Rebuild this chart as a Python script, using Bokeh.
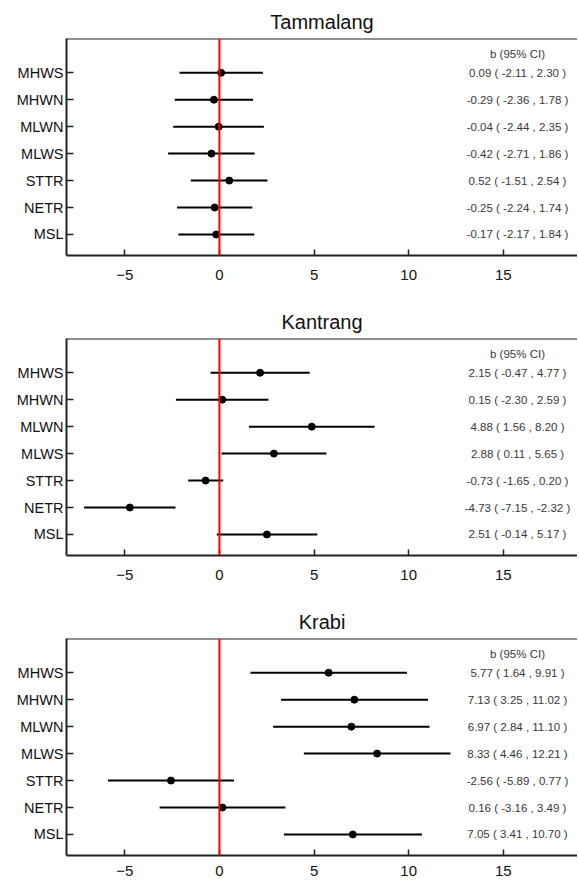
from bokeh.plotting import figure
from bokeh.layouts import column
from bokeh.models import Span, FixedTicker, Range1d, ColumnDataSource
from bokeh.embed import file_html
from bokeh.resources import INLINE
from bokeh.core.properties import value

sites = ["Tammalang", "Kantrang", "Krabi"]
params = ["MHWS", "MHWN", "MLWN", "MLWS", "STTR", "NETR", "MSL"]

tam_b = [0.09, -0.29, -0.04, -0.42, 0.52, -0.25, -0.17]
tam_lo = [-2.11, -2.36, -2.44, -2.71, -1.51, -2.24, -2.17]
tam_hi = [2.30, 1.78, 2.35, 1.86, 2.54, 1.74, 1.84]

kan_b = [2.15, 0.15, 4.88, 2.88, -0.73, -4.73, 2.51]
kan_lo = [-0.47, -2.30, 1.56, 0.11, -1.65, -7.15, -0.14]
kan_hi = [4.77, 2.59, 8.20, 5.65, 0.20, -2.32, 5.17]

kra_b = [5.77, 7.13, 6.97, 8.33, -2.56, 0.16, 7.05]
kra_lo = [1.64, 3.25, 2.84, 4.46, -5.89, -3.16, 3.41]
kra_hi = [9.91, 11.02, 11.10, 12.21, 0.77, 3.49, 10.70]

x_ticks = [-5, 0, 5, 10, 15]
header = "b (95% CI)"

X_RANGE = (-8.08, 18.92)
Y_RANGE = (0.22, 8.27)
TEXT_X = 15.75
HEADER_Y = 7.71
FONT = "Liberation Sans"


def fmt(v):
    return f"{v:.2f}"


def make(title, b, lo, hi, height, bottom, label_standoff):
    n = len(params)
    ypos = [float(n - i) for i in range(n)]
    labels = [f"{fmt(bb)} ( {fmt(l)} , {fmt(h)} )" for bb, l, h in zip(b, lo, hi)]
    src = ColumnDataSource(dict(b=b, lo=lo, hi=hi, y=ypos, lab=labels))

    p = figure(width=577, height=height,
               x_range=Range1d(*X_RANGE), y_range=Range1d(*Y_RANGE),
               output_backend="svg", toolbar_location=None, title=title,
               min_border_left=66, min_border_right=0,
               min_border_top=38, min_border_bottom=bottom)
    p.outline_line_color = None
    p.xgrid.visible = False
    p.ygrid.visible = False

    p.title.align = "center"
    p.title.text_font = FONT
    p.title.text_font_style = "normal"
    p.title.text_font_size = "20px"
    p.title.text_color = "#111111"
    p.title.standoff = 12

    p.xaxis.ticker = FixedTicker(ticks=x_ticks)
    p.xaxis.major_tick_in = 6
    p.xaxis.major_tick_out = 0
    p.xaxis.minor_tick_line_color = None
    p.xaxis.axis_line_width = 2
    p.xaxis.axis_line_color = "#222222"
    p.xaxis.major_tick_line_width = 1.5
    p.xaxis.major_tick_line_color = "#222222"
    p.xaxis.major_label_text_font = FONT
    p.xaxis.major_label_text_font_size = "15px"
    p.xaxis.major_label_text_color = "#111111"
    p.xaxis.major_label_standoff = label_standoff

    p.yaxis.ticker = FixedTicker(ticks=ypos)
    p.yaxis.major_label_overrides = {y: name for y, name in zip(ypos, params)}
    p.yaxis.major_tick_in = 7
    p.yaxis.major_tick_out = 0
    p.yaxis.minor_tick_line_color = None
    p.yaxis.axis_line_width = 2
    p.yaxis.axis_line_color = "#222222"
    p.yaxis.major_tick_line_width = 1.5
    p.yaxis.major_tick_line_color = "#222222"
    p.yaxis.major_label_text_font = FONT
    p.yaxis.major_label_text_font_size = "14.5px"
    p.yaxis.major_label_text_color = "#111111"
    p.yaxis.major_label_standoff = 3

    p.add_layout(Span(location=Y_RANGE[1], dimension="width",
                      line_color="#222222", line_width=2))
    p.add_layout(Span(location=0, dimension="height",
                      line_color="#ff0000", line_width=2))

    p.segment(x0="lo", y0="y", x1="hi", y1="y", source=src,
              line_color="black", line_width=2)
    p.scatter(x="b", y="y", source=src, size=7, color="black")

    p.text(x=TEXT_X, y="y", text="lab", source=src,
           text_align="center", text_baseline="middle",
           text_font=value(FONT), text_font_size="11.5px", text_color="#383838")
    p.text(x=[TEXT_X], y=[HEADER_Y], text=[header],
           text_align="center", text_baseline="middle",
           text_font=value(FONT), text_font_size="11.5px", text_color="#383838")
    return p


p1 = make(sites[0], tam_b, tam_lo, tam_hi, 300, 45, 14)
p2 = make(sites[1], kan_b, kan_lo, kan_hi, 300, 45, 14)
p3 = make(sites[2], kra_b, kra_lo, kra_hi, 279, 24, 10)

layout = column(p1, p2, p3, spacing=0)
open("out.html", "w").write(file_html(layout, INLINE))
